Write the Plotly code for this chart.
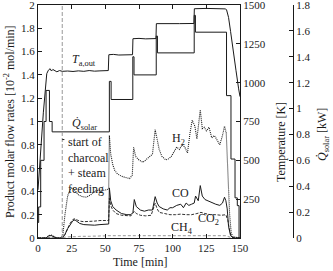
import plotly.graph_objects as go

# ---------------- data ----------------
t_T = [0, 1.5, 4, 6.5, 7.7, 9, 10, 11, 12, 14, 16, 18, 22, 26, 30, 34, 38, 42, 46, 50, 52.2,
       52.6, 56, 60, 65, 70.2, 70.5, 75, 80, 87.6, 87.9, 95, 105, 115.8, 116.1, 125, 135, 139,
       140, 141.5, 143, 145, 147, 149, 150]
T_aout = [310, 510, 810, 1058, 1080, 1090, 1075, 1085, 1080, 1070, 1078, 1073, 1075, 1072, 1076,
          1073, 1078, 1074, 1076, 1077, 1078, 1180, 1182, 1178, 1180, 1180, 1283, 1285, 1282, 1284,
          1380, 1382, 1380, 1381, 1476, 1478, 1476, 1475, 1470, 1420, 1330, 1220, 1080, 960, 910]

t_Q = [0, 0.5, 0.5, 2, 2, 4.5, 4.5, 6, 6, 8.5, 8.5, 10.5, 10.5, 53, 53, 54.3, 54.3, 70.4, 70.4,
       71.3, 71.3, 87.8, 87.8, 88.7, 88.7, 116, 116, 116.9, 116.9, 140, 140, 143.3, 143.3, 146.3,
       146.3, 148, 148, 149.3, 149.3, 150]
Q_solar = [0.12, 0.12, 0.24, 0.24, 0.60, 0.60, 0.90, 0.90, 1.14, 1.14, 0.90, 0.90, 0.82, 0.82,
           1.21, 1.21, 1.07, 1.07, 1.40, 1.40, 1.26, 1.26, 1.56, 1.56, 1.43, 1.43, 1.72, 1.72,
           1.59, 1.59, 1.10, 1.10, 0.61, 0.61, 0.31, 0.31, 0.25, 0.25, 0.0, 0.0]

t_H2 = [0, 6, 8, 10, 12, 14, 17, 18.5, 20, 22, 24, 26, 28, 30, 33, 36, 39, 42, 45, 49, 52.5, 53,
        54, 55.5, 57, 59, 62, 65, 68, 70, 71, 72.5, 75, 78, 80, 83, 85, 87, 88.5, 90, 92, 95, 97,
        99, 101, 103, 105, 107, 109, 111, 113, 114.5, 116.5, 118, 120.5, 122, 123.5, 125, 127,
        129, 131, 133, 135, 137, 138.5, 139.8, 141, 142.3, 143.5, 145, 150]
H2 = [0, 0, 0.02, 0.025, 0.01, 0, 0, 0.03, 0.2, 0.36, 0.42, 0.43, 0.40, 0.37, 0.355, 0.35, 0.37,
      0.40, 0.41, 0.41, 0.42, 0.88, 0.72, 0.63, 0.58, 0.55, 0.53, 0.52, 0.51, 0.54, 0.78, 0.70,
      0.67, 0.65, 0.67, 0.70, 0.72, 0.93, 0.84, 0.76, 0.70, 0.67, 0.68, 0.70, 0.74, 0.78, 0.76,
      0.80, 0.78, 0.73, 0.91, 1.01, 0.96, 0.85, 1.10, 0.94, 0.95, 0.92, 0.95, 0.86, 0.88, 0.84,
      0.80, 0.88, 0.96, 0.90, 0.60, 0.20, 0.04, 0.01, 0]

t_CO = [0, 6, 8, 10, 12, 14, 18, 20, 22, 24, 26, 27.5, 29, 31, 34, 38, 42, 46, 50, 52.5, 53, 54,
        55.5, 58, 62, 66, 69, 70.5, 71.5, 73, 76, 79, 82, 85, 87, 88.5, 90, 93, 96, 98, 100, 103,
        106, 108, 110, 112, 114, 116, 117, 119, 120.5, 122, 124, 126, 129, 132, 135, 137, 138.5,
        139.5, 140.5, 141.5, 143, 145, 150]
CO = [0, 0, 0.02, 0.02, 0.01, 0, 0, 0.03, 0.08, 0.12, 0.15, 0.155, 0.14, 0.125, 0.115, 0.11, 0.11,
      0.115, 0.115, 0.12, 0.43, 0.32, 0.27, 0.24, 0.21, 0.20, 0.20, 0.22, 0.33, 0.27, 0.24, 0.23,
      0.24, 0.24, 0.355, 0.30, 0.27, 0.25, 0.24, 0.26, 0.26, 0.28, 0.29, 0.26, 0.30, 0.28, 0.29,
      0.30, 0.36, 0.32, 0.45, 0.36, 0.33, 0.32, 0.30, 0.29, 0.28, 0.30, 0.35, 0.32, 0.25, 0.10,
      0.02, 0, 0]

t_CO2 = [0, 18, 20, 22, 24, 26, 27.5, 29, 31, 34, 38, 42, 46, 50, 52.5, 53, 54, 55.5, 58, 62, 66,
         69, 71.5, 73, 76, 80, 84, 87, 88.5, 90, 94, 98, 102, 106, 110, 114, 118, 121, 124, 128,
         132, 136, 139.5, 141, 142.5, 144, 146, 150]
CO2 = [0, 0, 0.03, 0.08, 0.13, 0.16, 0.165, 0.155, 0.145, 0.14, 0.14, 0.145, 0.15, 0.15, 0.15,
       0.34, 0.28, 0.24, 0.21, 0.195, 0.19, 0.19, 0.23, 0.21, 0.195, 0.19, 0.195, 0.30, 0.25, 0.22,
       0.21, 0.20, 0.20, 0.205, 0.20, 0.20, 0.21, 0.22, 0.21, 0.20, 0.20, 0.195, 0.20, 0.15, 0.05,
       0.01, 0, 0]

t_CH4 = [0, 18, 20, 25, 40, 53, 80, 110, 140, 142, 143.5, 150]
CH4 = [0, 0, 0.008, 0.012, 0.015, 0.02, 0.02, 0.02, 0.02, 0.01, 0, 0]

t_feed = 18  # start of charcoal + steam feeding

x_ticks = [0, 25, 50, 75, 100, 125, 150]
T_ticks = [250, 500, 750, 1000, 1250, 1500]

# ---------------- layout geometry ----------------
W, H = 333, 271
ML, MR, MT, MB = 38, 30, 5, 33
PW = W - ML - MR
PH = H - MT - MB
X_RIGHT_PX = 240
QAX_PX = 293
dom_end = (X_RIGHT_PX - ML) / PW

def px(p):
    return (p - ML) / PW

def py(q):
    return (H - MB - q) / PH

FONT = "Liberation Serif"
INK = "#1a1a1a"

fig = go.Figure()

fig.add_trace(go.Scatter(x=t_CH4, y=CH4, mode="lines", yaxis="y",
                         line=dict(color="#aaaaaa", width=1.2, dash="3px,2px"), showlegend=False))
fig.add_trace(go.Scatter(x=t_CO2, y=CO2, mode="lines", yaxis="y",
                         line=dict(color=INK, width=0.9, dash="3px,1.5px"), showlegend=False))
fig.add_trace(go.Scatter(x=t_CO, y=CO, mode="lines", yaxis="y",
                         line=dict(color=INK, width=1), showlegend=False))
fig.add_trace(go.Scatter(x=t_H2, y=H2, mode="lines", yaxis="y",
                         line=dict(color=INK, width=1.1, dash="1px,1px"), showlegend=False))
fig.add_trace(go.Scatter(x=t_T, y=T_aout, mode="lines", yaxis="y2",
                         line=dict(color=INK, width=1), showlegend=False))
fig.add_trace(go.Scatter(x=t_Q, y=Q_solar, mode="lines", yaxis="y3",
                         line=dict(color=INK, width=1), showlegend=False))

# feeding start line
fig.add_shape(type="line", xref="x", yref="y", x0=t_feed, x1=t_feed, y0=0, y1=2,
              line=dict(color="#999999", width=1, dash="4px,2px"))
fig.add_shape(type="line", xref="x", yref="y", x0=t_feed, x1=t_feed + 1.6, y0=0.845, y1=0.845,
              line=dict(color=INK, width=1))

axfont = dict(family=FONT, size=11, color=INK)
common = dict(ticks="inside", ticklen=4, tickcolor=INK, tickwidth=1, showline=True,
              linecolor=INK, linewidth=1, showgrid=False, zeroline=False, tickfont=axfont,
              automargin=False, ticklabeloverflow="allow")

fig.update_layout(
    template="none",
    width=W, height=H,
    margin=dict(l=ML, r=MR, t=MT, b=MB, autoexpand=False),
    paper_bgcolor="white", plot_bgcolor="white",
    font=dict(family=FONT, size=11, color=INK),
    showlegend=False,
    xaxis=dict(domain=[0, dom_end], range=[0, 150], tickvals=x_ticks, mirror="ticks", **common),
    yaxis=dict(range=[0, 2], dtick=0.2, **common),
    yaxis2=dict(range=[0, 1500], tickvals=T_ticks, overlaying="y", side="right", anchor="x",
                **common),
    yaxis3=dict(range=[0, 1.8], dtick=0.2, overlaying="y", side="right", anchor="free",
                position=px(QAX_PX), **common),
)

def ann(text, xp, yp, size=12, angle=0, xanchor="center", yanchor="middle", align="center"):
    fig.add_annotation(text=text, xref="paper", yref="paper", x=px(xp), y=py(yp),
                       showarrow=False, textangle=angle, xanchor=xanchor, yanchor=yanchor,
                       align=align, font=dict(family=FONT, size=size, color=INK))

# axis titles
ann("Product molar flow rates [10<sup>-2</sup> mol/min]", 10, 122, size=12, angle=-90)
ann("Temperature [K]", 281, 142, size=12, angle=-90)
ann("<i>Q\u0307</i><sub>solar</sub> [kW]", 323, 135, size=12, angle=-90)
ann("Time [min]", 140, 262, size=12)

# curve labels
ann("<i>T</i><sub>a,out</sub>", 84, 60, size=12)
ann("<i>Q\u0307</i><sub>solar</sub>", 84, 124, size=12)
ann("H<sub>2</sub>", 178, 139, size=12)
ann("CO", 180, 193, size=12)
ann("CO<sub>2</sub>", 208, 219, size=12)
ann("CH<sub>4</sub>", 182, 228, size=12)
ann("start of<br>charcoal<br>+ steam<br>feeding", 66, 133, size=12,
    xanchor="left", yanchor="top", align="left")

fig.write_html("out.html", config={"displayModeBar": False},
               post_script="document.body.style.margin='0px';document.body.style.padding='0px';")
